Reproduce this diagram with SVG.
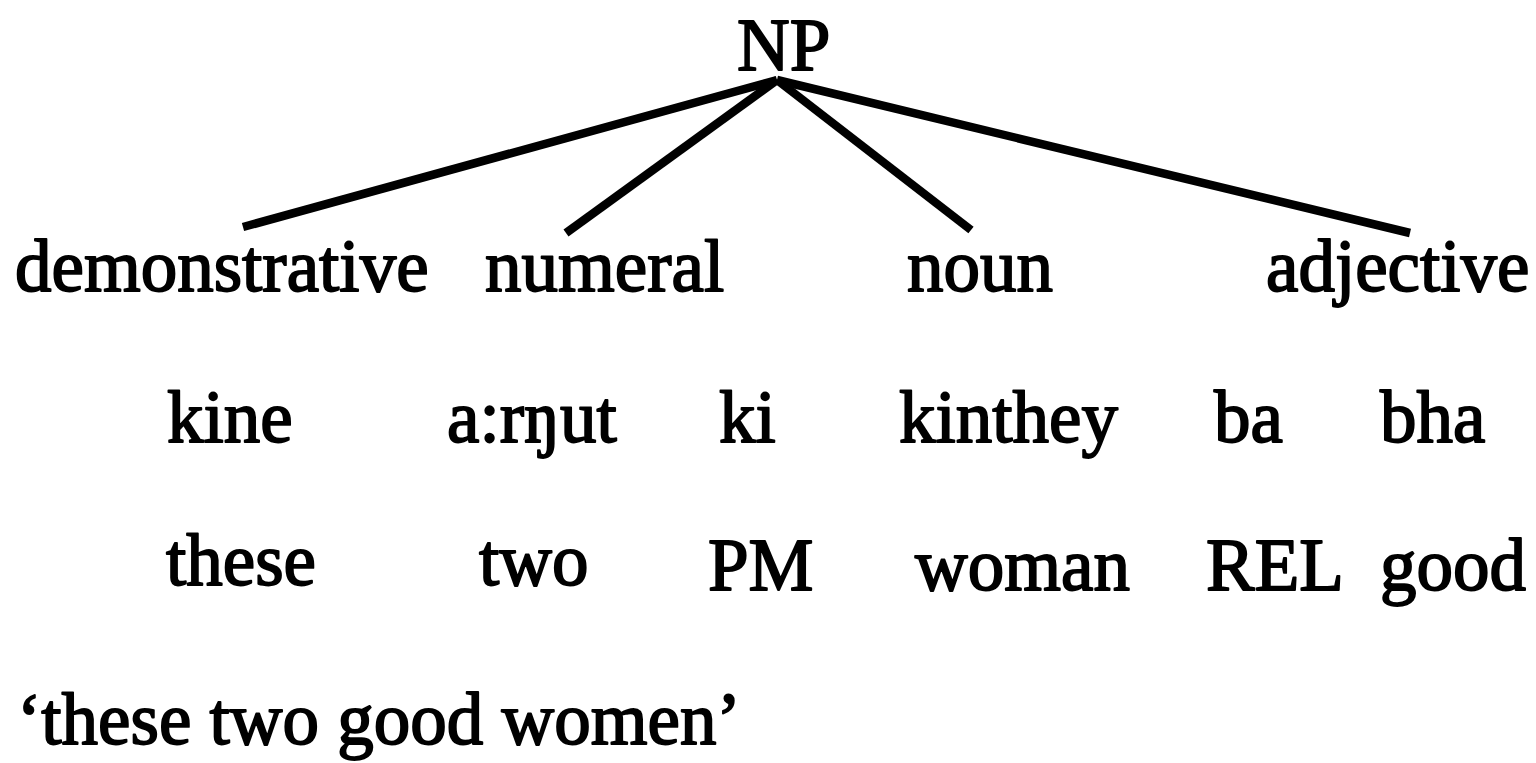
<svg xmlns="http://www.w3.org/2000/svg" width="1536" height="763" viewBox="0 0 1536 763">
<style>
text{font-family:"Liberation Serif","Times New Roman",serif;font-size:73px;fill:#000;stroke:#000;stroke-width:1.8px;stroke-linejoin:round}
.edge{stroke:#000;stroke-width:8.5;fill:none;stroke-linecap:butt}
</style>
<rect width="1536" height="763" fill="#fff"/>
<g id="connectors">
<line class="edge" x1="777" y1="80" x2="243" y2="227"/>
<line class="edge" x1="777" y1="80" x2="566" y2="233"/>
<line class="edge" x1="777" y1="80" x2="971" y2="230"/>
<line class="edge" x1="777" y1="80" x2="1410" y2="233"/>
</g>
<g id="np"><text x="737" y="70">NP</text></g>
<g id="demonstrative"><text x="15" y="291">demonstrative</text></g>
<g id="numeral"><text x="485" y="291">numeral</text></g>
<g id="noun"><text x="907" y="291">noun</text></g>
<g id="adjective"><text x="1266" y="291">adjective</text></g>
<g id="gloss-row">
<text x="167" y="442">kine</text>
<text x="447" y="442">a:rŋut</text>
<text x="719" y="442">ki</text>
<text x="899" y="442">kinthey</text>
<text x="1214" y="442">ba</text>
<text x="1380" y="442">bha</text>
</g>
<g id="translation-row">
<text x="166" y="585">these</text>
<text x="479" y="585">two</text>
<text x="708" y="590">PM</text>
<text x="915" y="590">woman</text>
<text x="1206" y="590">REL</text>
<text x="1380" y="590">good</text>
</g>
<g id="free-translation"><text x="17" y="744">‘these two good women’</text></g>
</svg>
